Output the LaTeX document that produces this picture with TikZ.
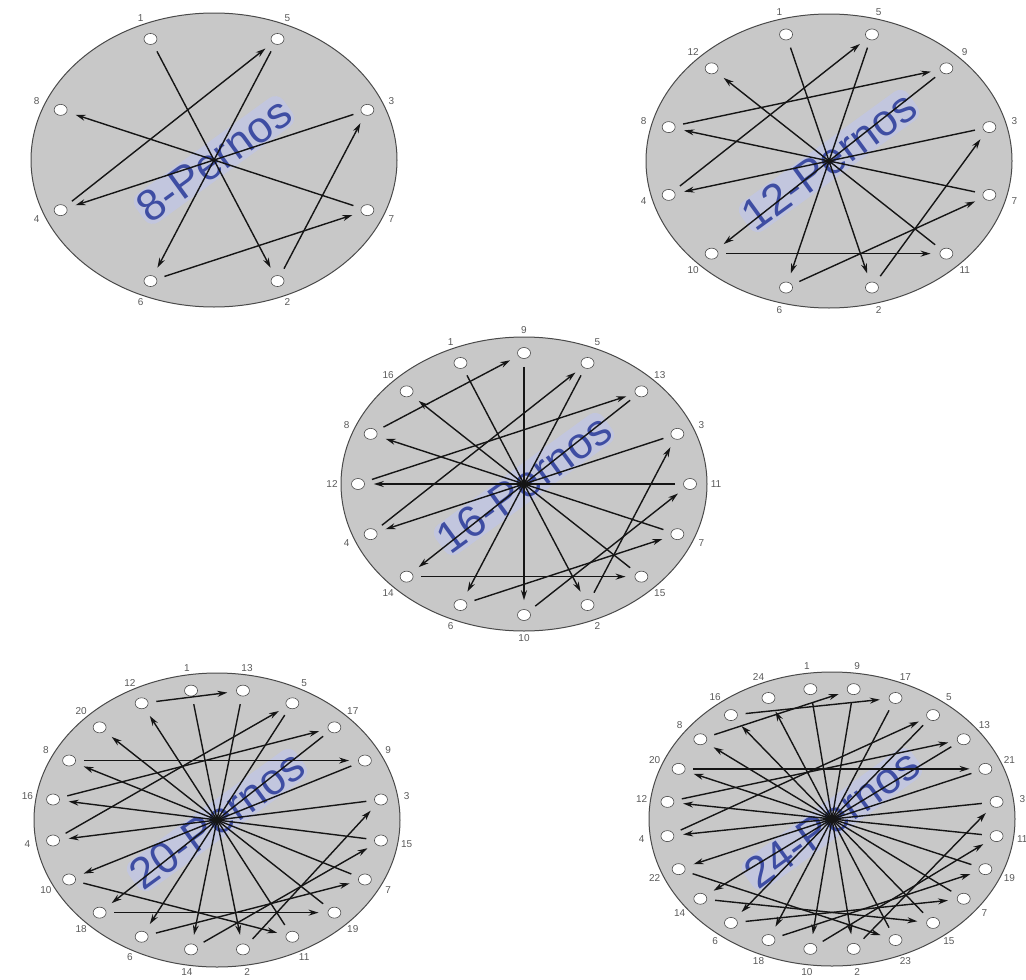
\documentclass[tikz,border=0pt]{standalone}
\usepackage{fontspec}
\setmainfont{Liberation Sans}
\usetikzlibrary{arrows.meta,shapes.geometric}
\definecolor{flangegray}{HTML}{C8C8C8}
\definecolor{edgegray}{HTML}{4A4A4A}
\definecolor{titleblue}{HTML}{3E4DA3}
\definecolor{glowblue}{HTML}{BFC5EE}
\definecolor{labelgray}{HTML}{5A5A5A}
\definecolor{linegray}{HTML}{151515}
\tikzset{
  flangebody/.style={fill=flangegray, draw=edgegray, line width=1pt},
  bolthole/.style={ellipse, inner sep=0pt, minimum width=13pt, minimum height=11pt,
    fill=white, draw=gray!60!black, line width=0.6pt},
  boltlabel/.style={text=labelgray, font=\fontsize{10}{10}\selectfont, inner sep=0pt},
  seqarrow/.style={draw=linegray, line width=1.4pt, -{Stealth[length=10pt,width=6pt]},
    shorten <=8pt, shorten >=9pt},
  flangetitle/.style={text=titleblue, font=\fontsize{44}{44}\selectfont, rotate=36,
    fill=glowblue, fill opacity=0.6, text opacity=1, inner sep=2pt, rounded corners=10pt}
}
% #1 prefix, #2 cx, #3 cy, #4 bolt count, #5 start angle, #6 sequence (clockwise)
\newcommand{\drawflange}[6]{%
  \path[flangebody] (#2,#3) ellipse [x radius=183, y radius=147];
  \node[flangetitle] (#1-title) at (#2,#3) {#4-Pernos};
  \foreach \b [count=\i from 0] in {#6} {
    \pgfmathsetmacro\ang{#5-360/#4*\i}
    \node[bolthole] (#1-\b) at ({#2+166*cos(\ang)},{#3-131*sin(\ang)}) {};
    \node[boltlabel] (#1-l\b) at ({#2+192*cos(\ang)},{#3-154*sin(\ang)}) {\b};
  }
  \pgfmathtruncatemacro\last{#4-1}
  \foreach \k in {1,...,\last} {
    \pgfmathtruncatemacro\nxt{\k+1}
    \draw[seqarrow] (#1-\k) -- (#1-\nxt);
  }
}
\begin{document}
\begin{tikzpicture}[x=1pt,y=-1pt]
\useasboundingbox (0,0) rectangle (1026,980);
\drawflange{fa}{214}{160}{8}{112.5}{1,5,3,7,2,6,4,8}
\drawflange{fb}{829}{161}{12}{105}{1,5,9,3,7,11,2,6,10,4,8,12}
\drawflange{fc}{524}{484}{16}{112.5}{1,9,5,13,3,11,7,15,2,10,6,14,4,12,8,16}
\drawflange{fd}{217}{820}{20}{99}{1,13,5,17,9,3,15,7,19,11,2,14,6,18,10,4,16,8,20,12}
\drawflange{fe}{832}{819}{24}{97.5}{1,9,17,5,13,21,3,11,19,7,15,23,2,10,18,6,14,22,4,12,20,8,16,24}
\end{tikzpicture}
\end{document}
